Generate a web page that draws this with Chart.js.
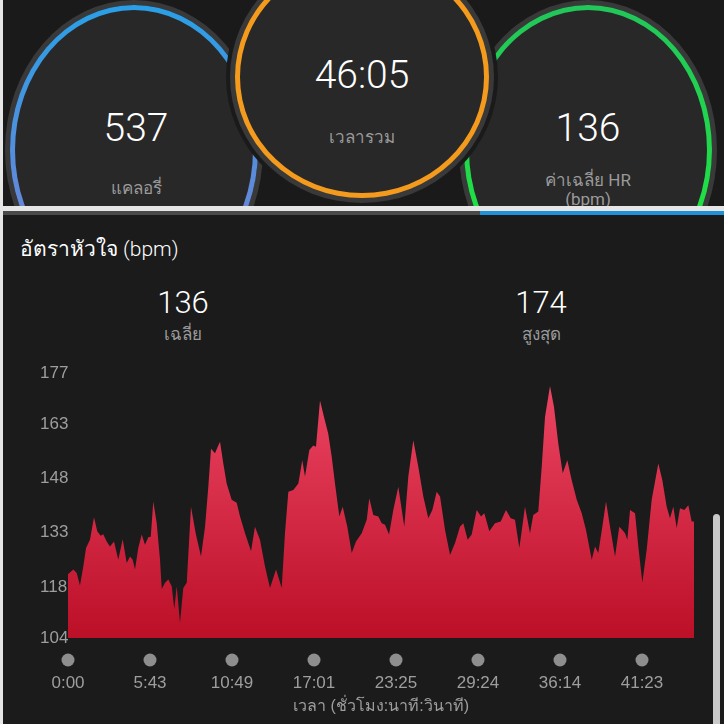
<!DOCTYPE html>
<html>
<head>
<meta charset="utf-8">
<script src="https://cdn.jsdelivr.net/npm/chart.js@4"></script>
<style>
  body { margin: 0; width: 724px; height: 724px; background: #e6e6e6; overflow: hidden; position: relative;
         font-family: Roboto, "Noto Sans", "DejaVu Sans", sans-serif; }
  .panel { position: absolute; left: 3px; right: 0; background: #1b1b1b; overflow: hidden; }
  .ring { position: absolute; border-radius: 50%; box-sizing: border-box; border: 5px solid transparent; }
  .txt { position: absolute; transform: translate(-50%, -50%); white-space: nowrap; line-height: 1; }
  .big { color: #fff; font-size: 39px; font-weight: 300; }
  .lbl { color: #9a9a9a; font-size: 17px; }
</style>
</head>
<body>
<!-- top: the three summary circles -->
<div class="panel" style="top:0; height:206px; background:#1a1a1a">
  <div class="ring" style="left:7px; top:5px; width:248px; height:290px;
       background: linear-gradient(#282828,#282828) padding-box, linear-gradient(#2a9fe6, #7c7fd2) border-box;
       box-shadow: 0 0 0 5px #393939"></div>
  <div class="ring" style="left:461px; top:5px; width:248px; height:290px;
       background: linear-gradient(#282828,#282828) padding-box, linear-gradient(#22c65a, #1fea3c) border-box;
       box-shadow: 0 0 0 5px #393939"></div>
  <div class="ring" style="left:232px; top:-44px; width:254px; height:242px; background:#282828;
       border-color:#f49b1e; box-shadow: 0 0 0 5px #393939, 0 0 0 9px #1a1a1a"></div>
  <div class="txt big" style="left:133px; top:128px">537</div>
  <div class="txt lbl" style="left:133px; top:188px">แคลอรี่</div>
  <div class="txt big" style="left:359px; top:75px">46:05</div>
  <div class="txt lbl" style="left:359px; top:137px">เวลารวม</div>
  <div class="txt big" style="left:585px; top:128px">136</div>
  <div class="txt lbl" style="left:585px; top:180px">ค่าเฉลี่ย HR</div>
  <div class="txt lbl" style="left:585px; top:199px">(bpm)</div>
</div>
<div style="position:absolute; left:3px; top:211px; width:477px; height:4px; background:#4a4a4a"></div>
<div style="position:absolute; left:480px; top:211px; width:244px; height:4px; background:#1e93dc"></div>

<!-- bottom: heart rate panel -->
<div class="panel" style="top:215px; height:509px">
  <div class="txt" style="left:17px; top:34px; transform:translate(0,-50%); color:#fff; font-size:21px; font-weight:300">อัตราหัวใจ (bpm)</div>
  <div class="txt" style="left:180px; top:87px; color:#fff; font-size:31px; font-weight:300">136</div>
  <div class="txt lbl" style="left:180px; top:119px">เฉลี่ย</div>
  <div class="txt" style="left:538px; top:87px; color:#fff; font-size:31px; font-weight:300">174</div>
  <div class="txt lbl" style="left:538px; top:119px">สูงสุด</div>
  <div style="position:absolute; left:710px; top:299px; width:7px; height:220px; background:#c9c9c9; border-radius:4px 4px 0 0"></div>
</div>
<canvas id="hrChart" width="709" height="364" style="position:absolute; left:3px; top:360px"></canvas>

<script>
// positions along the time axis (1 unit = one label step) and heart rate
const hrPos = [0, 0.065, 0.106, 0.146, 0.187, 0.220, 0.268, 0.317, 0.357, 0.399,
  0.430, 0.472, 0.512, 0.561, 0.613, 0.667, 0.716, 0.756, 0.789, 0.817,
  0.857, 0.899, 0.939, 0.979, 1.009, 1.040, 1.082, 1.122, 1.143, 1.183,
  1.223, 1.265, 1.296, 1.326, 1.366, 1.406, 1.448, 1.500, 1.557, 1.622,
  1.671, 1.711, 1.744, 1.793, 1.826, 1.854, 1.894, 1.935, 1.996, 2.057,
  2.098, 2.159, 2.232, 2.280, 2.341, 2.402, 2.463, 2.537, 2.606, 2.646,
  2.687, 2.748, 2.809, 2.857, 2.890, 2.943, 2.991, 3.024, 3.073, 3.122,
  3.174, 3.216, 3.256, 3.309, 3.350, 3.406, 3.460, 3.512, 3.582, 3.643,
  3.674, 3.723, 3.784, 3.826, 3.866, 3.915, 3.967, 4.028, 4.101, 4.150,
  4.211, 4.272, 4.333, 4.394, 4.443, 4.496, 4.537, 4.598, 4.659, 4.720,
  4.780, 4.821, 4.874, 4.923, 4.984, 5.037, 5.077, 5.138, 5.207, 5.277,
  5.341, 5.399, 5.451, 5.504, 5.573, 5.634, 5.674, 5.735, 5.777, 5.817,
  5.878, 5.927, 5.979, 6.033, 6.089, 6.143, 6.204, 6.265, 6.317, 6.387,
  6.427, 6.467, 6.516, 6.561, 6.610, 6.671, 6.723, 6.760, 6.793, 6.821,
  6.854, 6.915, 6.955, 7.004, 7.057, 7.118, 7.199, 7.248, 7.301, 7.341,
  7.382, 7.423, 7.463, 7.516, 7.565, 7.606, 7.634]
const hrBpm = [121.6, 122.9, 121.9, 118.5, 123.8, 128.8, 131.1, 137.3, 133.4, 132.2,
  132.6, 130.6, 129.2, 130.6, 125.6, 131.2, 124.7, 126.5, 125.6, 122.9,
  128.8, 132.5, 129.7, 131.8, 131.9, 141.6, 135.6, 125.6, 117.5, 119.2,
  120.1, 118.3, 111.9, 118.3, 108.2, 117.8, 119.2, 140.2, 132.9, 126.5,
  134.7, 145.7, 156.2, 154.9, 156.7, 158.1, 152.1, 146.6, 142.1, 141.3,
  137.5, 132.9, 127.9, 134.7, 131.1, 123.8, 117.8, 122.9, 117.8, 132.9,
  144.3, 144.8, 146.6, 153.0, 148.5, 155.8, 157.1, 156.7, 169.5, 164.9,
  160.3, 154.0, 146.6, 137.5, 140.2, 134.7, 127.4, 130.6, 132.9, 136.6,
  142.5, 137.9, 137.5, 135.6, 135.2, 132.5, 139.3, 145.7, 134.7, 148.5,
  158.5, 151.2, 143.0, 137.0, 139.3, 144.3, 143.0, 133.8, 126.9, 130.2,
  134.7, 135.6, 131.1, 132.5, 139.3, 137.5, 138.4, 133.4, 135.6, 136.1,
  139.3, 137.0, 136.6, 128.8, 140.2, 132.9, 137.9, 138.9, 151.2, 164.9,
  173.5, 167.7, 157.6, 149.4, 153.0, 147.5, 142.1, 138.4, 133.8, 125.6,
  129.2, 127.4, 134.7, 141.6, 134.7, 126.5, 134.7, 133.8, 132.9, 131.1,
  139.3, 138.4, 129.2, 119.2, 128.3, 142.1, 152.1, 147.5, 140.2, 137.0,
  140.2, 134.3, 139.8, 139.3, 140.6, 136.1, 136.1]
const timeLabels = ['0:00', '5:43', '10:49', '17:01', '23:25', '29:24', '36:14', '41:23']
const yTicks = [104, 118, 133, 148, 163, 177]

const grey = '#9e9e9e'

//grey dots above each time label
const tickDots = {
  id: 'tickDots',
  afterDraw(chart) {
    const c = chart.ctx
    const x = chart.scales.x
    c.save()
    c.fillStyle = '#8e8e8e'
    timeLabels.forEach((t, i) => {
      c.beginPath()
      c.arc(x.getPixelForValue(i), chart.chartArea.bottom + 22, 6.5, 0, Math.PI * 2)
      c.fill()
    })
    c.restore()
  }
}

new Chart('hrChart', {
  type: 'line',
  data: {
    datasets: [{
      data: hrPos.map((p, i) => ({x: p, y: hrBpm[i]})),
      fill: 'start',
      borderWidth: 0,
      borderColor: 'transparent',
      pointRadius: 0,
      tension: 0,
      backgroundColor: (ctx) => {
        const area = ctx.chart.chartArea
        if (!area) return '#d42340'
        const g = ctx.chart.ctx.createLinearGradient(0, area.top, 0, area.bottom)
        g.addColorStop(0, '#ee4866')
        g.addColorStop(1, '#bc0f28')
        return g
      }
    }]
  },
  options: {
    responsive: false,
    animation: false,
    layout: {padding: {left: 37, right: 18, top: 8, bottom: 0}},
    plugins: {legend: {display: false}, tooltip: {enabled: false}},
    scales: {
      x: {
        type: 'linear',
        min: 0,
        max: hrPos[hrPos.length - 1],
        grid: {display: false, drawTicks: false},
        border: {display: false},
        afterBuildTicks: (s) => { s.ticks = timeLabels.map((t, i) => ({value: i})) },
        afterFit: (s) => { s.height = 86 },
        ticks: {color: grey, font: {size: 17}, padding: 35, maxRotation: 0,
                callback: (v) => timeLabels[v]},
        title: {display: true, text: 'เวลา (ชั่วโมง:นาที:วินาที)', color: grey,
                font: {size: 16}, padding: {top: 4, bottom: 8}}
      },
      y: {
        min: 104,
        max: 177,
        grid: {display: false, drawTicks: false},
        border: {display: false},
        afterBuildTicks: (s) => { s.ticks = yTicks.map(v => ({value: v})) },
        afterFit: (s) => { s.width = 28 },
        ticks: {color: grey, font: {size: 17}, crossAlign: 'far'}
      }
    }
  },
  plugins: [tickDots]
})
</script>
</body>
</html>
